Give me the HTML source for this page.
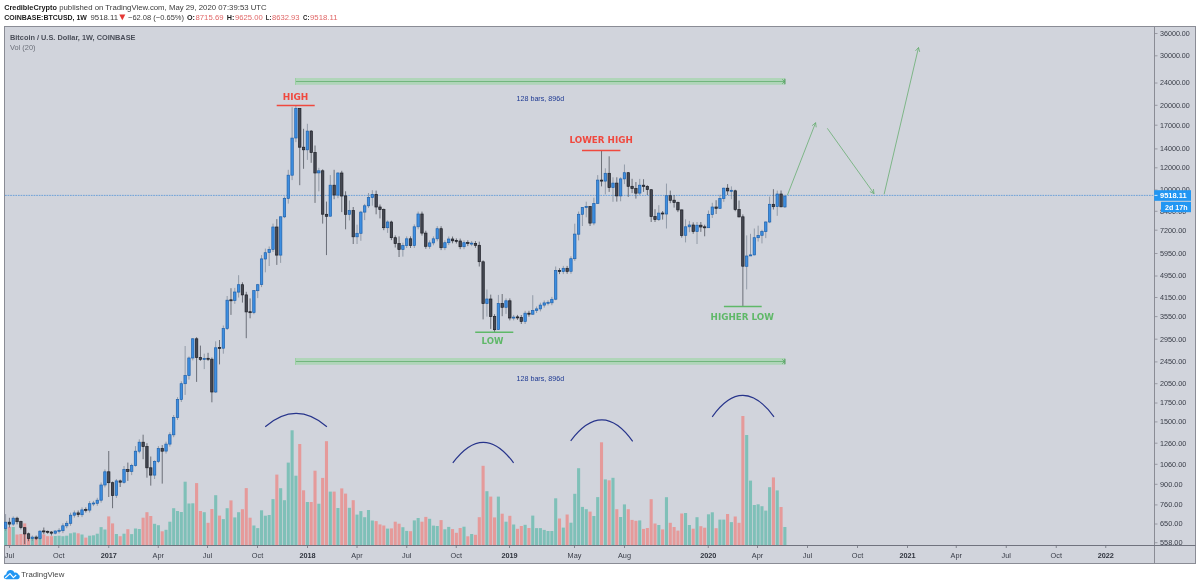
<!DOCTYPE html>
<html lang="en"><head><meta charset="utf-8"><title>BTCUSD 1W - TradingView</title>
<style>html,body{margin:0;padding:0;background:#fff}svg{display:block}text{font-family:"Liberation Sans",sans-serif}.ax{font-size:7.3px;fill:#383c47}.axb{font-size:7.3px;fill:#30343e;font-weight:bold}.an{font-family:"DejaVu Sans","Liberation Sans",sans-serif;font-weight:bold;font-size:8.1px}</style></head><body>
<svg width="1200" height="586" viewBox="0 0 1200 586">
<rect x="0" y="0" width="1200" height="586" fill="#ffffff"/>
<text x="4.2" y="10" style="font-size:7.6px;font-weight:bold;fill:#1c1c1c" textLength="52.8" lengthAdjust="spacingAndGlyphs">CredibleCrypto</text>
<text x="59.2" y="10" style="font-size:7.6px;fill:#3a3a3a" textLength="207.5" lengthAdjust="spacingAndGlyphs">published on TradingView.com, May 29, 2020 07:39:53 UTC</text>
<text x="4.2" y="20" style="font-size:7.6px;font-weight:bold;fill:#1c1c1c" textLength="82.8" lengthAdjust="spacingAndGlyphs">COINBASE:BTCUSD, 1W</text>
<text x="90.5" y="20" style="font-size:7.6px;fill:#3a3a3a" textLength="27.5" lengthAdjust="spacingAndGlyphs">9518.11</text>
<path d="M119.3 14.6 L125.3 14.6 L122.3 20.2 Z" fill="#e53935"/>
<text x="128" y="20" style="font-size:7.6px;fill:#3a3a3a" textLength="56" lengthAdjust="spacingAndGlyphs">&#8722;62.08 (&#8722;0.65%)</text>
<text x="187" y="20" style="font-size:7.6px;font-weight:bold;fill:#1c1c1c" textLength="8" lengthAdjust="spacingAndGlyphs">O:</text>
<text x="195.5" y="20" style="font-size:7.6px;fill:#e06666" textLength="28" lengthAdjust="spacingAndGlyphs">8715.69</text>
<text x="226.7" y="20" style="font-size:7.6px;font-weight:bold;fill:#1c1c1c" textLength="7.6" lengthAdjust="spacingAndGlyphs">H:</text>
<text x="235" y="20" style="font-size:7.6px;fill:#e06666" textLength="27.7" lengthAdjust="spacingAndGlyphs">9625.00</text>
<text x="265.8" y="20" style="font-size:7.6px;font-weight:bold;fill:#1c1c1c" textLength="5.6" lengthAdjust="spacingAndGlyphs">L:</text>
<text x="272" y="20" style="font-size:7.6px;fill:#e06666" textLength="27.5" lengthAdjust="spacingAndGlyphs">8632.93</text>
<text x="303" y="20" style="font-size:7.6px;font-weight:bold;fill:#1c1c1c" textLength="6.4" lengthAdjust="spacingAndGlyphs">C:</text>
<text x="310" y="20" style="font-size:7.6px;fill:#e06666" textLength="27.5" lengthAdjust="spacingAndGlyphs">9518.11</text>
<rect x="4.5" y="26.5" width="1191.0" height="537.0" fill="#d1d4dc" stroke="#8a8c95" stroke-width="1"/>
<defs><clipPath id="cp"><rect x="4" y="27" width="1150.5" height="518.5"/></clipPath></defs>
<g clip-path="url(#cp)">
<rect x="4.05" y="528.7" width="3.1" height="16.8" fill="#7fc0b8"/>
<rect x="7.87" y="527.0" width="3.1" height="18.5" fill="#e59a9a"/>
<rect x="11.69" y="527.0" width="3.1" height="18.5" fill="#7fc0b8"/>
<rect x="15.51" y="534.5" width="3.1" height="11.0" fill="#e59a9a"/>
<rect x="19.33" y="534.0" width="3.1" height="11.5" fill="#e59a9a"/>
<rect x="23.15" y="523.4" width="3.1" height="22.1" fill="#e59a9a"/>
<rect x="26.97" y="537.0" width="3.1" height="8.5" fill="#e59a9a"/>
<rect x="30.79" y="537.4" width="3.1" height="8.1" fill="#7fc0b8"/>
<rect x="34.61" y="538.0" width="3.1" height="7.5" fill="#e59a9a"/>
<rect x="38.43" y="536.3" width="3.1" height="9.2" fill="#7fc0b8"/>
<rect x="42.25" y="534.5" width="3.1" height="11.0" fill="#e59a9a"/>
<rect x="46.07" y="536.2" width="3.1" height="9.2" fill="#e59a9a"/>
<rect x="49.89" y="536.2" width="3.1" height="9.2" fill="#e59a9a"/>
<rect x="53.71" y="536.0" width="3.1" height="9.5" fill="#7fc0b8"/>
<rect x="57.53" y="535.7" width="3.1" height="9.8" fill="#7fc0b8"/>
<rect x="61.35" y="536.2" width="3.1" height="9.2" fill="#7fc0b8"/>
<rect x="65.17" y="535.7" width="3.1" height="9.8" fill="#7fc0b8"/>
<rect x="68.99" y="533.3" width="3.1" height="12.2" fill="#7fc0b8"/>
<rect x="72.81" y="532.5" width="3.1" height="13.0" fill="#7fc0b8"/>
<rect x="76.63" y="533.3" width="3.1" height="12.2" fill="#e59a9a"/>
<rect x="80.45" y="534.5" width="3.1" height="11.0" fill="#7fc0b8"/>
<rect x="84.27" y="537.6" width="3.1" height="7.9" fill="#e59a9a"/>
<rect x="88.09" y="535.7" width="3.1" height="9.8" fill="#7fc0b8"/>
<rect x="91.91" y="535.3" width="3.1" height="10.2" fill="#7fc0b8"/>
<rect x="95.73" y="533.7" width="3.1" height="11.8" fill="#7fc0b8"/>
<rect x="99.55" y="527.1" width="3.1" height="18.4" fill="#7fc0b8"/>
<rect x="103.37" y="529.5" width="3.1" height="16.0" fill="#7fc0b8"/>
<rect x="107.19" y="516.4" width="3.1" height="29.1" fill="#e59a9a"/>
<rect x="111.01" y="523.4" width="3.1" height="22.1" fill="#e59a9a"/>
<rect x="114.83" y="534.0" width="3.1" height="11.5" fill="#7fc0b8"/>
<rect x="118.65" y="536.2" width="3.1" height="9.2" fill="#e59a9a"/>
<rect x="122.47" y="533.7" width="3.1" height="11.8" fill="#7fc0b8"/>
<rect x="126.29" y="529.2" width="3.1" height="16.2" fill="#e59a9a"/>
<rect x="130.11" y="534.1" width="3.1" height="11.4" fill="#7fc0b8"/>
<rect x="133.93" y="528.5" width="3.1" height="17.0" fill="#7fc0b8"/>
<rect x="137.75" y="529.0" width="3.1" height="16.5" fill="#7fc0b8"/>
<rect x="141.57" y="517.7" width="3.1" height="27.8" fill="#e59a9a"/>
<rect x="145.39" y="512.2" width="3.1" height="33.3" fill="#e59a9a"/>
<rect x="149.21" y="516.0" width="3.1" height="29.5" fill="#e59a9a"/>
<rect x="153.03" y="523.8" width="3.1" height="21.7" fill="#7fc0b8"/>
<rect x="156.85" y="525.2" width="3.1" height="20.3" fill="#7fc0b8"/>
<rect x="160.67" y="531.3" width="3.1" height="14.2" fill="#e59a9a"/>
<rect x="164.49" y="529.8" width="3.1" height="15.7" fill="#7fc0b8"/>
<rect x="168.31" y="521.7" width="3.1" height="23.8" fill="#7fc0b8"/>
<rect x="172.13" y="508.2" width="3.1" height="37.3" fill="#7fc0b8"/>
<rect x="175.95" y="511.0" width="3.1" height="34.5" fill="#7fc0b8"/>
<rect x="179.77" y="512.0" width="3.1" height="33.5" fill="#7fc0b8"/>
<rect x="183.59" y="481.7" width="3.1" height="63.8" fill="#7fc0b8"/>
<rect x="187.41" y="503.5" width="3.1" height="42.0" fill="#7fc0b8"/>
<rect x="191.23" y="503.3" width="3.1" height="42.2" fill="#7fc0b8"/>
<rect x="195.05" y="483.1" width="3.1" height="62.4" fill="#e59a9a"/>
<rect x="198.87" y="511.0" width="3.1" height="34.5" fill="#e59a9a"/>
<rect x="202.69" y="512.2" width="3.1" height="33.3" fill="#7fc0b8"/>
<rect x="206.51" y="522.8" width="3.1" height="22.7" fill="#e59a9a"/>
<rect x="210.33" y="509.0" width="3.1" height="36.5" fill="#e59a9a"/>
<rect x="214.15" y="495.2" width="3.1" height="50.3" fill="#7fc0b8"/>
<rect x="217.97" y="515.6" width="3.1" height="29.9" fill="#e59a9a"/>
<rect x="221.79" y="519.1" width="3.1" height="26.4" fill="#7fc0b8"/>
<rect x="225.61" y="508.2" width="3.1" height="37.3" fill="#7fc0b8"/>
<rect x="229.43" y="500.4" width="3.1" height="45.1" fill="#e59a9a"/>
<rect x="233.25" y="517.4" width="3.1" height="28.1" fill="#7fc0b8"/>
<rect x="237.07" y="512.2" width="3.1" height="33.3" fill="#7fc0b8"/>
<rect x="240.89" y="509.2" width="3.1" height="36.3" fill="#e59a9a"/>
<rect x="244.71" y="488.1" width="3.1" height="57.4" fill="#e59a9a"/>
<rect x="248.53" y="517.7" width="3.1" height="27.8" fill="#e59a9a"/>
<rect x="252.35" y="525.5" width="3.1" height="20.0" fill="#7fc0b8"/>
<rect x="256.17" y="528.1" width="3.1" height="17.4" fill="#7fc0b8"/>
<rect x="259.99" y="510.3" width="3.1" height="35.2" fill="#7fc0b8"/>
<rect x="263.81" y="515.7" width="3.1" height="29.8" fill="#7fc0b8"/>
<rect x="267.63" y="515.0" width="3.1" height="30.5" fill="#7fc0b8"/>
<rect x="271.45" y="499.1" width="3.1" height="46.4" fill="#7fc0b8"/>
<rect x="275.27" y="474.6" width="3.1" height="70.9" fill="#e59a9a"/>
<rect x="279.09" y="488.2" width="3.1" height="57.3" fill="#7fc0b8"/>
<rect x="282.91" y="500.2" width="3.1" height="45.3" fill="#7fc0b8"/>
<rect x="286.73" y="462.6" width="3.1" height="82.9" fill="#7fc0b8"/>
<rect x="290.55" y="430.3" width="3.1" height="115.2" fill="#7fc0b8"/>
<rect x="294.37" y="475.7" width="3.1" height="69.8" fill="#7fc0b8"/>
<rect x="298.19" y="444.0" width="3.1" height="101.5" fill="#e59a9a"/>
<rect x="302.01" y="490.3" width="3.1" height="55.2" fill="#e59a9a"/>
<rect x="305.83" y="502.0" width="3.1" height="43.5" fill="#7fc0b8"/>
<rect x="309.65" y="502.0" width="3.1" height="43.5" fill="#e59a9a"/>
<rect x="313.47" y="470.7" width="3.1" height="74.8" fill="#e59a9a"/>
<rect x="317.29" y="503.7" width="3.1" height="41.8" fill="#7fc0b8"/>
<rect x="321.11" y="477.9" width="3.1" height="67.6" fill="#e59a9a"/>
<rect x="324.93" y="441.2" width="3.1" height="104.3" fill="#e59a9a"/>
<rect x="328.75" y="491.6" width="3.1" height="53.9" fill="#7fc0b8"/>
<rect x="332.57" y="491.6" width="3.1" height="53.9" fill="#e59a9a"/>
<rect x="336.39" y="508.0" width="3.1" height="37.5" fill="#7fc0b8"/>
<rect x="340.21" y="488.4" width="3.1" height="57.1" fill="#e59a9a"/>
<rect x="344.03" y="493.6" width="3.1" height="51.9" fill="#e59a9a"/>
<rect x="347.85" y="507.8" width="3.1" height="37.7" fill="#7fc0b8"/>
<rect x="351.67" y="500.2" width="3.1" height="45.3" fill="#e59a9a"/>
<rect x="355.49" y="514.6" width="3.1" height="30.9" fill="#7fc0b8"/>
<rect x="359.31" y="511.1" width="3.1" height="34.4" fill="#7fc0b8"/>
<rect x="363.13" y="517.2" width="3.1" height="28.3" fill="#7fc0b8"/>
<rect x="366.95" y="510.0" width="3.1" height="35.5" fill="#7fc0b8"/>
<rect x="370.77" y="520.5" width="3.1" height="25.0" fill="#7fc0b8"/>
<rect x="374.59" y="521.1" width="3.1" height="24.4" fill="#e59a9a"/>
<rect x="378.41" y="524.4" width="3.1" height="21.1" fill="#e59a9a"/>
<rect x="382.23" y="525.5" width="3.1" height="20.0" fill="#e59a9a"/>
<rect x="386.05" y="528.6" width="3.1" height="16.9" fill="#7fc0b8"/>
<rect x="389.87" y="528.4" width="3.1" height="17.1" fill="#e59a9a"/>
<rect x="393.69" y="521.7" width="3.1" height="23.8" fill="#e59a9a"/>
<rect x="397.51" y="523.7" width="3.1" height="21.8" fill="#e59a9a"/>
<rect x="401.33" y="527.2" width="3.1" height="18.3" fill="#7fc0b8"/>
<rect x="405.15" y="530.9" width="3.1" height="14.6" fill="#7fc0b8"/>
<rect x="408.97" y="531.2" width="3.1" height="14.3" fill="#e59a9a"/>
<rect x="412.79" y="520.4" width="3.1" height="25.1" fill="#7fc0b8"/>
<rect x="416.61" y="518.0" width="3.1" height="27.5" fill="#7fc0b8"/>
<rect x="420.43" y="521.7" width="3.1" height="23.8" fill="#e59a9a"/>
<rect x="424.25" y="516.9" width="3.1" height="28.6" fill="#e59a9a"/>
<rect x="428.07" y="518.8" width="3.1" height="26.7" fill="#7fc0b8"/>
<rect x="431.89" y="525.6" width="3.1" height="19.9" fill="#7fc0b8"/>
<rect x="435.71" y="526.0" width="3.1" height="19.5" fill="#7fc0b8"/>
<rect x="439.53" y="520.1" width="3.1" height="25.4" fill="#e59a9a"/>
<rect x="443.35" y="529.3" width="3.1" height="16.2" fill="#7fc0b8"/>
<rect x="447.17" y="526.9" width="3.1" height="18.6" fill="#7fc0b8"/>
<rect x="450.99" y="529.1" width="3.1" height="16.4" fill="#e59a9a"/>
<rect x="454.81" y="532.8" width="3.1" height="12.7" fill="#e59a9a"/>
<rect x="458.63" y="528.0" width="3.1" height="17.5" fill="#e59a9a"/>
<rect x="462.45" y="526.7" width="3.1" height="18.8" fill="#7fc0b8"/>
<rect x="466.27" y="536.3" width="3.1" height="9.2" fill="#e59a9a"/>
<rect x="470.09" y="534.0" width="3.1" height="11.5" fill="#7fc0b8"/>
<rect x="473.91" y="534.8" width="3.1" height="10.7" fill="#e59a9a"/>
<rect x="477.73" y="517.2" width="3.1" height="28.3" fill="#e59a9a"/>
<rect x="481.55" y="465.8" width="3.1" height="79.7" fill="#e59a9a"/>
<rect x="485.37" y="491.2" width="3.1" height="54.3" fill="#7fc0b8"/>
<rect x="489.19" y="496.6" width="3.1" height="48.9" fill="#e59a9a"/>
<rect x="493.01" y="517.4" width="3.1" height="28.1" fill="#e59a9a"/>
<rect x="496.83" y="496.6" width="3.1" height="48.9" fill="#7fc0b8"/>
<rect x="500.65" y="513.7" width="3.1" height="31.8" fill="#e59a9a"/>
<rect x="504.47" y="521.7" width="3.1" height="23.8" fill="#7fc0b8"/>
<rect x="508.29" y="515.8" width="3.1" height="29.7" fill="#e59a9a"/>
<rect x="512.11" y="524.5" width="3.1" height="21.0" fill="#7fc0b8"/>
<rect x="515.93" y="528.8" width="3.1" height="16.7" fill="#e59a9a"/>
<rect x="519.75" y="526.0" width="3.1" height="19.5" fill="#e59a9a"/>
<rect x="523.57" y="524.8" width="3.1" height="20.7" fill="#7fc0b8"/>
<rect x="527.39" y="528.0" width="3.1" height="17.5" fill="#e59a9a"/>
<rect x="531.21" y="515.6" width="3.1" height="29.9" fill="#7fc0b8"/>
<rect x="535.03" y="528.1" width="3.1" height="17.4" fill="#7fc0b8"/>
<rect x="538.85" y="528.1" width="3.1" height="17.4" fill="#7fc0b8"/>
<rect x="542.67" y="529.9" width="3.1" height="15.6" fill="#7fc0b8"/>
<rect x="546.49" y="531.0" width="3.1" height="14.5" fill="#7fc0b8"/>
<rect x="550.31" y="531.0" width="3.1" height="14.5" fill="#7fc0b8"/>
<rect x="554.13" y="498.3" width="3.1" height="47.2" fill="#7fc0b8"/>
<rect x="557.95" y="518.5" width="3.1" height="27.0" fill="#e59a9a"/>
<rect x="561.77" y="527.6" width="3.1" height="17.9" fill="#7fc0b8"/>
<rect x="565.59" y="514.5" width="3.1" height="31.0" fill="#e59a9a"/>
<rect x="569.41" y="522.7" width="3.1" height="22.8" fill="#7fc0b8"/>
<rect x="573.23" y="493.8" width="3.1" height="51.7" fill="#7fc0b8"/>
<rect x="577.05" y="468.2" width="3.1" height="77.3" fill="#7fc0b8"/>
<rect x="580.87" y="506.9" width="3.1" height="38.6" fill="#7fc0b8"/>
<rect x="584.69" y="509.2" width="3.1" height="36.3" fill="#7fc0b8"/>
<rect x="588.51" y="511.6" width="3.1" height="33.9" fill="#e59a9a"/>
<rect x="592.33" y="516.0" width="3.1" height="29.5" fill="#7fc0b8"/>
<rect x="596.15" y="497.1" width="3.1" height="48.4" fill="#7fc0b8"/>
<rect x="599.97" y="442.3" width="3.1" height="103.2" fill="#e59a9a"/>
<rect x="603.79" y="479.4" width="3.1" height="66.1" fill="#7fc0b8"/>
<rect x="607.61" y="480.3" width="3.1" height="65.2" fill="#e59a9a"/>
<rect x="611.43" y="477.8" width="3.1" height="67.7" fill="#7fc0b8"/>
<rect x="615.25" y="509.2" width="3.1" height="36.3" fill="#e59a9a"/>
<rect x="619.07" y="517.0" width="3.1" height="28.5" fill="#7fc0b8"/>
<rect x="622.89" y="504.4" width="3.1" height="41.1" fill="#7fc0b8"/>
<rect x="626.71" y="509.2" width="3.1" height="36.3" fill="#e59a9a"/>
<rect x="630.53" y="519.9" width="3.1" height="25.6" fill="#e59a9a"/>
<rect x="634.35" y="520.8" width="3.1" height="24.7" fill="#e59a9a"/>
<rect x="638.17" y="520.4" width="3.1" height="25.1" fill="#7fc0b8"/>
<rect x="641.99" y="528.9" width="3.1" height="16.6" fill="#e59a9a"/>
<rect x="645.81" y="528.0" width="3.1" height="17.5" fill="#e59a9a"/>
<rect x="649.63" y="499.2" width="3.1" height="46.3" fill="#e59a9a"/>
<rect x="653.45" y="523.5" width="3.1" height="22.0" fill="#e59a9a"/>
<rect x="657.27" y="525.0" width="3.1" height="20.5" fill="#7fc0b8"/>
<rect x="661.09" y="529.4" width="3.1" height="16.1" fill="#e59a9a"/>
<rect x="664.91" y="497.2" width="3.1" height="48.3" fill="#7fc0b8"/>
<rect x="668.73" y="522.8" width="3.1" height="22.7" fill="#e59a9a"/>
<rect x="672.55" y="527.0" width="3.1" height="18.5" fill="#e59a9a"/>
<rect x="676.37" y="530.6" width="3.1" height="14.9" fill="#e59a9a"/>
<rect x="680.19" y="513.5" width="3.1" height="32.0" fill="#e59a9a"/>
<rect x="684.01" y="513.0" width="3.1" height="32.5" fill="#7fc0b8"/>
<rect x="687.83" y="525.0" width="3.1" height="20.5" fill="#7fc0b8"/>
<rect x="691.65" y="528.7" width="3.1" height="16.8" fill="#e59a9a"/>
<rect x="695.47" y="517.2" width="3.1" height="28.3" fill="#7fc0b8"/>
<rect x="699.29" y="526.2" width="3.1" height="19.3" fill="#e59a9a"/>
<rect x="703.11" y="527.7" width="3.1" height="17.8" fill="#e59a9a"/>
<rect x="706.93" y="514.3" width="3.1" height="31.2" fill="#7fc0b8"/>
<rect x="710.75" y="512.3" width="3.1" height="33.2" fill="#7fc0b8"/>
<rect x="714.57" y="528.2" width="3.1" height="17.3" fill="#e59a9a"/>
<rect x="718.39" y="519.6" width="3.1" height="25.9" fill="#7fc0b8"/>
<rect x="722.21" y="519.6" width="3.1" height="25.9" fill="#7fc0b8"/>
<rect x="726.03" y="514.0" width="3.1" height="31.5" fill="#e59a9a"/>
<rect x="729.85" y="522.1" width="3.1" height="23.4" fill="#7fc0b8"/>
<rect x="733.67" y="516.5" width="3.1" height="29.0" fill="#e59a9a"/>
<rect x="737.49" y="522.8" width="3.1" height="22.7" fill="#e59a9a"/>
<rect x="741.31" y="416.0" width="3.1" height="129.5" fill="#e59a9a"/>
<rect x="745.13" y="435.0" width="3.1" height="110.5" fill="#7fc0b8"/>
<rect x="748.95" y="480.6" width="3.1" height="64.9" fill="#7fc0b8"/>
<rect x="752.77" y="505.0" width="3.1" height="40.5" fill="#7fc0b8"/>
<rect x="756.59" y="504.3" width="3.1" height="41.2" fill="#7fc0b8"/>
<rect x="760.41" y="506.2" width="3.1" height="39.3" fill="#7fc0b8"/>
<rect x="764.23" y="510.6" width="3.1" height="34.9" fill="#7fc0b8"/>
<rect x="768.05" y="487.2" width="3.1" height="58.3" fill="#7fc0b8"/>
<rect x="771.87" y="477.4" width="3.1" height="68.1" fill="#e59a9a"/>
<rect x="775.69" y="490.4" width="3.1" height="55.1" fill="#7fc0b8"/>
<rect x="779.51" y="507.0" width="3.1" height="38.5" fill="#e59a9a"/>
<rect x="783.33" y="527.0" width="3.1" height="18.5" fill="#7fc0b8"/>
</g>
<line x1="5" y1="195.4" x2="1154.5" y2="195.4" stroke="#2a7fd6" stroke-width="0.6" stroke-dasharray="1.7 0.9"/>
<rect x="295" y="78.0" width="490" height="6.8" fill="#acd5b5" opacity="0.9"/>
<line x1="295" y1="81.5" x2="785" y2="81.5" stroke="#72b67e" stroke-width="1"/>
<line x1="295.5" y1="78.0" x2="295.5" y2="84.8" stroke="#9ccfa4" stroke-width="1"/>
<line x1="784.9" y1="78.8" x2="784.9" y2="84.2" stroke="#4f9a5c" stroke-width="1.1"/>
<path d="M782.2 79.3 L784.6 81.5 L782.2 83.7" fill="none" stroke="#5aa566" stroke-width="0.8"/>
<rect x="295" y="358.0" width="490" height="6.8" fill="#acd5b5" opacity="0.9"/>
<line x1="295" y1="361.5" x2="785" y2="361.5" stroke="#72b67e" stroke-width="1"/>
<line x1="295.5" y1="358.0" x2="295.5" y2="364.8" stroke="#9ccfa4" stroke-width="1"/>
<line x1="784.9" y1="358.8" x2="784.9" y2="364.2" stroke="#4f9a5c" stroke-width="1.1"/>
<path d="M782.2 359.3 L784.6 361.5 L782.2 363.7" fill="none" stroke="#5aa566" stroke-width="0.8"/>
<text x="516.5" y="101.3" style="font-size:7.3px;fill:#1f3a93" textLength="47.7" lengthAdjust="spacingAndGlyphs">128 bars, 896d</text>
<text x="516.5" y="380.7" style="font-size:7.3px;fill:#1f3a93" textLength="47.7" lengthAdjust="spacingAndGlyphs">128 bars, 896d</text>
<g clip-path="url(#cp)">
<line x1="5.60" y1="514.1" x2="5.60" y2="530.8" stroke="#7d8897" stroke-width="0.75"/>
<rect x="4.40" y="522.2" width="2.4" height="6.3" fill="#3d8ee0" stroke="#1f62ad" stroke-width="0.7"/>
<line x1="9.42" y1="517.8" x2="9.42" y2="527.5" stroke="#4a4d57" stroke-width="0.75"/>
<rect x="8.22" y="522.2" width="2.4" height="1.9" fill="#454852" stroke="#1d1f26" stroke-width="0.7"/>
<line x1="13.24" y1="516.4" x2="13.24" y2="525.9" stroke="#7d8897" stroke-width="0.75"/>
<rect x="12.04" y="518.2" width="2.4" height="5.9" fill="#3d8ee0" stroke="#1f62ad" stroke-width="0.7"/>
<line x1="17.06" y1="516.7" x2="17.06" y2="524.4" stroke="#4a4d57" stroke-width="0.75"/>
<rect x="15.86" y="518.2" width="2.4" height="3.5" fill="#454852" stroke="#1d1f26" stroke-width="0.7"/>
<line x1="20.88" y1="520.7" x2="20.88" y2="529.4" stroke="#4a4d57" stroke-width="0.75"/>
<rect x="19.68" y="521.6" width="2.4" height="6.0" fill="#454852" stroke="#1d1f26" stroke-width="0.7"/>
<line x1="24.70" y1="527.1" x2="24.70" y2="544.0" stroke="#4a4d57" stroke-width="0.75"/>
<rect x="23.50" y="527.7" width="2.4" height="6.2" fill="#454852" stroke="#1d1f26" stroke-width="0.7"/>
<line x1="28.52" y1="532.6" x2="28.52" y2="541.2" stroke="#4a4d57" stroke-width="0.75"/>
<rect x="27.32" y="533.8" width="2.4" height="4.6" fill="#454852" stroke="#1d1f26" stroke-width="0.7"/>
<line x1="32.34" y1="535.5" x2="32.34" y2="541.0" stroke="#7d8897" stroke-width="0.75"/>
<rect x="31.14" y="537.1" width="2.4" height="1.3" fill="#3d8ee0" stroke="#1f62ad" stroke-width="0.7"/>
<line x1="36.16" y1="535.5" x2="36.16" y2="540.1" stroke="#4a4d57" stroke-width="0.75"/>
<rect x="34.96" y="537.1" width="2.4" height="1.3" fill="#454852" stroke="#1d1f26" stroke-width="0.7"/>
<line x1="39.98" y1="530.2" x2="39.98" y2="540.1" stroke="#7d8897" stroke-width="0.75"/>
<rect x="38.78" y="531.2" width="2.4" height="7.2" fill="#3d8ee0" stroke="#1f62ad" stroke-width="0.7"/>
<line x1="43.80" y1="527.5" x2="43.80" y2="534.2" stroke="#4a4d57" stroke-width="0.75"/>
<rect x="42.60" y="530.9" width="2.4" height="1.0" fill="#454852" stroke="#1d1f26" stroke-width="0.7"/>
<line x1="47.62" y1="530.6" x2="47.62" y2="533.8" stroke="#4a4d57" stroke-width="0.75"/>
<rect x="46.42" y="531.3" width="2.4" height="1.0" fill="#454852" stroke="#1d1f26" stroke-width="0.7"/>
<line x1="51.44" y1="531.2" x2="51.44" y2="535.5" stroke="#4a4d57" stroke-width="0.75"/>
<rect x="50.24" y="532.0" width="2.4" height="1.2" fill="#454852" stroke="#1d1f26" stroke-width="0.7"/>
<line x1="55.26" y1="530.4" x2="55.26" y2="534.4" stroke="#7d8897" stroke-width="0.75"/>
<rect x="54.06" y="531.0" width="2.4" height="2.2" fill="#3d8ee0" stroke="#1f62ad" stroke-width="0.7"/>
<line x1="59.08" y1="528.2" x2="59.08" y2="533.5" stroke="#7d8897" stroke-width="0.75"/>
<rect x="57.88" y="530.3" width="2.4" height="1.0" fill="#3d8ee0" stroke="#1f62ad" stroke-width="0.7"/>
<line x1="62.90" y1="523.3" x2="62.90" y2="533.1" stroke="#7d8897" stroke-width="0.75"/>
<rect x="61.70" y="525.8" width="2.4" height="4.9" fill="#3d8ee0" stroke="#1f62ad" stroke-width="0.7"/>
<line x1="66.72" y1="520.9" x2="66.72" y2="528.2" stroke="#7d8897" stroke-width="0.75"/>
<rect x="65.52" y="523.3" width="2.4" height="2.5" fill="#3d8ee0" stroke="#1f62ad" stroke-width="0.7"/>
<line x1="70.54" y1="512.7" x2="70.54" y2="525.8" stroke="#7d8897" stroke-width="0.75"/>
<rect x="69.34" y="515.2" width="2.4" height="8.1" fill="#3d8ee0" stroke="#1f62ad" stroke-width="0.7"/>
<line x1="74.36" y1="510.5" x2="74.36" y2="517.6" stroke="#7d8897" stroke-width="0.75"/>
<rect x="73.16" y="512.9" width="2.4" height="2.3" fill="#3d8ee0" stroke="#1f62ad" stroke-width="0.7"/>
<line x1="78.18" y1="510.5" x2="78.18" y2="517.1" stroke="#4a4d57" stroke-width="0.75"/>
<rect x="76.98" y="512.9" width="2.4" height="1.7" fill="#454852" stroke="#1d1f26" stroke-width="0.7"/>
<line x1="82.00" y1="507.4" x2="82.00" y2="517.1" stroke="#7d8897" stroke-width="0.75"/>
<rect x="80.80" y="509.9" width="2.4" height="4.8" fill="#3d8ee0" stroke="#1f62ad" stroke-width="0.7"/>
<line x1="85.82" y1="507.4" x2="85.82" y2="512.5" stroke="#4a4d57" stroke-width="0.75"/>
<rect x="84.62" y="509.4" width="2.4" height="1.0" fill="#454852" stroke="#1d1f26" stroke-width="0.7"/>
<line x1="89.64" y1="501.2" x2="89.64" y2="512.5" stroke="#7d8897" stroke-width="0.75"/>
<rect x="88.44" y="503.7" width="2.4" height="6.4" fill="#3d8ee0" stroke="#1f62ad" stroke-width="0.7"/>
<line x1="93.46" y1="500.9" x2="93.46" y2="506.1" stroke="#7d8897" stroke-width="0.75"/>
<rect x="92.26" y="503.0" width="2.4" height="1.0" fill="#3d8ee0" stroke="#1f62ad" stroke-width="0.7"/>
<line x1="97.28" y1="497.8" x2="97.28" y2="505.8" stroke="#7d8897" stroke-width="0.75"/>
<rect x="96.08" y="500.2" width="2.4" height="3.1" fill="#3d8ee0" stroke="#1f62ad" stroke-width="0.7"/>
<line x1="101.10" y1="482.5" x2="101.10" y2="502.7" stroke="#7d8897" stroke-width="0.75"/>
<rect x="99.90" y="485.0" width="2.4" height="15.2" fill="#3d8ee0" stroke="#1f62ad" stroke-width="0.7"/>
<line x1="104.92" y1="469.4" x2="104.92" y2="487.4" stroke="#7d8897" stroke-width="0.75"/>
<rect x="103.72" y="471.8" width="2.4" height="13.2" fill="#3d8ee0" stroke="#1f62ad" stroke-width="0.7"/>
<line x1="108.74" y1="451.0" x2="108.74" y2="497.0" stroke="#4a4d57" stroke-width="0.75"/>
<rect x="107.54" y="471.8" width="2.4" height="10.9" fill="#454852" stroke="#1d1f26" stroke-width="0.7"/>
<line x1="112.56" y1="481.6" x2="112.56" y2="508.2" stroke="#4a4d57" stroke-width="0.75"/>
<rect x="111.36" y="482.7" width="2.4" height="12.7" fill="#454852" stroke="#1d1f26" stroke-width="0.7"/>
<line x1="116.38" y1="479.0" x2="116.38" y2="497.9" stroke="#7d8897" stroke-width="0.75"/>
<rect x="115.18" y="480.9" width="2.4" height="14.4" fill="#3d8ee0" stroke="#1f62ad" stroke-width="0.7"/>
<line x1="120.20" y1="479.6" x2="120.20" y2="487.0" stroke="#4a4d57" stroke-width="0.75"/>
<rect x="119.00" y="480.9" width="2.4" height="1.3" fill="#454852" stroke="#1d1f26" stroke-width="0.7"/>
<line x1="124.02" y1="466.0" x2="124.02" y2="483.6" stroke="#7d8897" stroke-width="0.75"/>
<rect x="122.82" y="469.6" width="2.4" height="12.7" fill="#3d8ee0" stroke="#1f62ad" stroke-width="0.7"/>
<line x1="127.84" y1="462.6" x2="127.84" y2="480.9" stroke="#4a4d57" stroke-width="0.75"/>
<rect x="126.64" y="469.6" width="2.4" height="1.8" fill="#454852" stroke="#1d1f26" stroke-width="0.7"/>
<line x1="131.66" y1="463.7" x2="131.66" y2="475.1" stroke="#7d8897" stroke-width="0.75"/>
<rect x="130.46" y="465.4" width="2.4" height="6.0" fill="#3d8ee0" stroke="#1f62ad" stroke-width="0.7"/>
<line x1="135.48" y1="446.1" x2="135.48" y2="466.6" stroke="#7d8897" stroke-width="0.75"/>
<rect x="134.28" y="451.2" width="2.4" height="14.3" fill="#3d8ee0" stroke="#1f62ad" stroke-width="0.7"/>
<line x1="139.30" y1="439.3" x2="139.30" y2="453.3" stroke="#7d8897" stroke-width="0.75"/>
<rect x="138.10" y="442.2" width="2.4" height="9.0" fill="#3d8ee0" stroke="#1f62ad" stroke-width="0.7"/>
<line x1="143.12" y1="434.7" x2="143.12" y2="459.2" stroke="#4a4d57" stroke-width="0.75"/>
<rect x="141.92" y="442.2" width="2.4" height="4.4" fill="#454852" stroke="#1d1f26" stroke-width="0.7"/>
<line x1="146.94" y1="443.2" x2="146.94" y2="477.7" stroke="#4a4d57" stroke-width="0.75"/>
<rect x="145.74" y="446.6" width="2.4" height="21.2" fill="#454852" stroke="#1d1f26" stroke-width="0.7"/>
<line x1="150.76" y1="456.5" x2="150.76" y2="485.6" stroke="#4a4d57" stroke-width="0.75"/>
<rect x="149.56" y="467.8" width="2.4" height="7.3" fill="#454852" stroke="#1d1f26" stroke-width="0.7"/>
<line x1="154.58" y1="460.3" x2="154.58" y2="479.0" stroke="#7d8897" stroke-width="0.75"/>
<rect x="153.38" y="461.4" width="2.4" height="13.7" fill="#3d8ee0" stroke="#1f62ad" stroke-width="0.7"/>
<line x1="158.40" y1="446.1" x2="158.40" y2="463.1" stroke="#7d8897" stroke-width="0.75"/>
<rect x="157.20" y="448.6" width="2.4" height="12.8" fill="#3d8ee0" stroke="#1f62ad" stroke-width="0.7"/>
<line x1="162.22" y1="445.1" x2="162.22" y2="483.6" stroke="#4a4d57" stroke-width="0.75"/>
<rect x="161.02" y="448.6" width="2.4" height="2.6" fill="#454852" stroke="#1d1f26" stroke-width="0.7"/>
<line x1="166.04" y1="441.7" x2="166.04" y2="453.6" stroke="#7d8897" stroke-width="0.75"/>
<rect x="164.84" y="444.1" width="2.4" height="7.0" fill="#3d8ee0" stroke="#1f62ad" stroke-width="0.7"/>
<line x1="169.86" y1="432.3" x2="169.86" y2="446.6" stroke="#7d8897" stroke-width="0.75"/>
<rect x="168.66" y="434.7" width="2.4" height="9.4" fill="#3d8ee0" stroke="#1f62ad" stroke-width="0.7"/>
<line x1="173.68" y1="415.0" x2="173.68" y2="437.2" stroke="#7d8897" stroke-width="0.75"/>
<rect x="172.48" y="417.5" width="2.4" height="17.3" fill="#3d8ee0" stroke="#1f62ad" stroke-width="0.7"/>
<line x1="177.50" y1="397.2" x2="177.50" y2="419.9" stroke="#7d8897" stroke-width="0.75"/>
<rect x="176.30" y="399.6" width="2.4" height="17.9" fill="#3d8ee0" stroke="#1f62ad" stroke-width="0.7"/>
<line x1="181.32" y1="381.3" x2="181.32" y2="402.0" stroke="#7d8897" stroke-width="0.75"/>
<rect x="180.12" y="383.7" width="2.4" height="15.9" fill="#3d8ee0" stroke="#1f62ad" stroke-width="0.7"/>
<line x1="185.14" y1="346.0" x2="185.14" y2="394.9" stroke="#7d8897" stroke-width="0.75"/>
<rect x="183.94" y="375.6" width="2.4" height="8.1" fill="#3d8ee0" stroke="#1f62ad" stroke-width="0.7"/>
<line x1="188.96" y1="356.5" x2="188.96" y2="379.6" stroke="#7d8897" stroke-width="0.75"/>
<rect x="187.76" y="358.0" width="2.4" height="17.6" fill="#3d8ee0" stroke="#1f62ad" stroke-width="0.7"/>
<line x1="192.78" y1="338.0" x2="192.78" y2="360.4" stroke="#7d8897" stroke-width="0.75"/>
<rect x="191.58" y="338.8" width="2.4" height="19.2" fill="#3d8ee0" stroke="#1f62ad" stroke-width="0.7"/>
<line x1="196.60" y1="337.2" x2="196.60" y2="381.9" stroke="#4a4d57" stroke-width="0.75"/>
<rect x="195.40" y="338.8" width="2.4" height="18.7" fill="#454852" stroke="#1d1f26" stroke-width="0.7"/>
<line x1="200.42" y1="345.6" x2="200.42" y2="360.9" stroke="#4a4d57" stroke-width="0.75"/>
<rect x="199.22" y="357.5" width="2.4" height="1.9" fill="#454852" stroke="#1d1f26" stroke-width="0.7"/>
<line x1="204.24" y1="353.7" x2="204.24" y2="369.1" stroke="#7d8897" stroke-width="0.75"/>
<rect x="203.04" y="358.4" width="2.4" height="1.0" fill="#3d8ee0" stroke="#1f62ad" stroke-width="0.7"/>
<line x1="208.06" y1="352.8" x2="208.06" y2="360.9" stroke="#4a4d57" stroke-width="0.75"/>
<rect x="206.86" y="358.3" width="2.4" height="1.0" fill="#454852" stroke="#1d1f26" stroke-width="0.7"/>
<line x1="211.88" y1="357.5" x2="211.88" y2="402.3" stroke="#4a4d57" stroke-width="0.75"/>
<rect x="210.68" y="359.2" width="2.4" height="32.8" fill="#454852" stroke="#1d1f26" stroke-width="0.7"/>
<line x1="215.70" y1="341.3" x2="215.70" y2="393.0" stroke="#7d8897" stroke-width="0.75"/>
<rect x="214.50" y="347.8" width="2.4" height="44.2" fill="#3d8ee0" stroke="#1f62ad" stroke-width="0.7"/>
<line x1="219.52" y1="340.0" x2="219.52" y2="364.4" stroke="#4a4d57" stroke-width="0.75"/>
<rect x="218.32" y="347.5" width="2.4" height="1.0" fill="#454852" stroke="#1d1f26" stroke-width="0.7"/>
<line x1="223.34" y1="325.5" x2="223.34" y2="353.7" stroke="#7d8897" stroke-width="0.75"/>
<rect x="222.14" y="328.5" width="2.4" height="19.7" fill="#3d8ee0" stroke="#1f62ad" stroke-width="0.7"/>
<line x1="227.16" y1="296.0" x2="227.16" y2="330.0" stroke="#7d8897" stroke-width="0.75"/>
<rect x="225.96" y="300.2" width="2.4" height="28.3" fill="#3d8ee0" stroke="#1f62ad" stroke-width="0.7"/>
<line x1="230.98" y1="288.2" x2="230.98" y2="314.9" stroke="#4a4d57" stroke-width="0.75"/>
<rect x="229.78" y="299.8" width="2.4" height="1.0" fill="#454852" stroke="#1d1f26" stroke-width="0.7"/>
<line x1="234.80" y1="287.9" x2="234.80" y2="303.8" stroke="#7d8897" stroke-width="0.75"/>
<rect x="233.60" y="292.0" width="2.4" height="8.5" fill="#3d8ee0" stroke="#1f62ad" stroke-width="0.7"/>
<line x1="238.62" y1="275.2" x2="238.62" y2="297.5" stroke="#7d8897" stroke-width="0.75"/>
<rect x="237.42" y="284.7" width="2.4" height="7.4" fill="#3d8ee0" stroke="#1f62ad" stroke-width="0.7"/>
<line x1="242.44" y1="282.3" x2="242.44" y2="302.6" stroke="#4a4d57" stroke-width="0.75"/>
<rect x="241.24" y="284.7" width="2.4" height="10.2" fill="#454852" stroke="#1d1f26" stroke-width="0.7"/>
<line x1="246.26" y1="291.8" x2="246.26" y2="338.2" stroke="#4a4d57" stroke-width="0.75"/>
<rect x="245.06" y="294.9" width="2.4" height="17.0" fill="#454852" stroke="#1d1f26" stroke-width="0.7"/>
<line x1="250.08" y1="298.4" x2="250.08" y2="318.3" stroke="#4a4d57" stroke-width="0.75"/>
<rect x="248.88" y="311.7" width="2.4" height="1.0" fill="#454852" stroke="#1d1f26" stroke-width="0.7"/>
<line x1="253.90" y1="290.4" x2="253.90" y2="314.2" stroke="#7d8897" stroke-width="0.75"/>
<rect x="252.70" y="290.6" width="2.4" height="21.9" fill="#3d8ee0" stroke="#1f62ad" stroke-width="0.7"/>
<line x1="257.72" y1="283.9" x2="257.72" y2="298.1" stroke="#7d8897" stroke-width="0.75"/>
<rect x="256.52" y="284.7" width="2.4" height="6.0" fill="#3d8ee0" stroke="#1f62ad" stroke-width="0.7"/>
<line x1="261.54" y1="255.1" x2="261.54" y2="287.1" stroke="#7d8897" stroke-width="0.75"/>
<rect x="260.34" y="258.9" width="2.4" height="25.7" fill="#3d8ee0" stroke="#1f62ad" stroke-width="0.7"/>
<line x1="265.36" y1="248.6" x2="265.36" y2="272.3" stroke="#7d8897" stroke-width="0.75"/>
<rect x="264.16" y="252.7" width="2.4" height="6.3" fill="#3d8ee0" stroke="#1f62ad" stroke-width="0.7"/>
<line x1="269.18" y1="246.5" x2="269.18" y2="266.0" stroke="#7d8897" stroke-width="0.75"/>
<rect x="267.98" y="249.4" width="2.4" height="3.2" fill="#3d8ee0" stroke="#1f62ad" stroke-width="0.7"/>
<line x1="273.00" y1="223.6" x2="273.00" y2="252.0" stroke="#7d8897" stroke-width="0.75"/>
<rect x="271.80" y="227.0" width="2.4" height="22.4" fill="#3d8ee0" stroke="#1f62ad" stroke-width="0.7"/>
<line x1="276.82" y1="219.1" x2="276.82" y2="264.9" stroke="#4a4d57" stroke-width="0.75"/>
<rect x="275.62" y="227.0" width="2.4" height="28.1" fill="#454852" stroke="#1d1f26" stroke-width="0.7"/>
<line x1="280.64" y1="216.5" x2="280.64" y2="262.9" stroke="#7d8897" stroke-width="0.75"/>
<rect x="279.44" y="216.8" width="2.4" height="38.3" fill="#3d8ee0" stroke="#1f62ad" stroke-width="0.7"/>
<line x1="284.46" y1="196.6" x2="284.46" y2="218.1" stroke="#7d8897" stroke-width="0.75"/>
<rect x="283.26" y="198.5" width="2.4" height="18.3" fill="#3d8ee0" stroke="#1f62ad" stroke-width="0.7"/>
<line x1="288.28" y1="169.8" x2="288.28" y2="203.6" stroke="#7d8897" stroke-width="0.75"/>
<rect x="287.08" y="175.2" width="2.4" height="23.3" fill="#3d8ee0" stroke="#1f62ad" stroke-width="0.7"/>
<line x1="292.10" y1="107.2" x2="292.10" y2="180.1" stroke="#7d8897" stroke-width="0.75"/>
<rect x="290.90" y="138.1" width="2.4" height="37.1" fill="#3d8ee0" stroke="#1f62ad" stroke-width="0.7"/>
<line x1="295.92" y1="106.0" x2="295.92" y2="142.1" stroke="#7d8897" stroke-width="0.75"/>
<rect x="294.72" y="108.4" width="2.4" height="29.6" fill="#3d8ee0" stroke="#1f62ad" stroke-width="0.7"/>
<line x1="299.74" y1="108.4" x2="299.74" y2="185.2" stroke="#4a4d57" stroke-width="0.75"/>
<rect x="298.54" y="108.4" width="2.4" height="38.8" fill="#454852" stroke="#1d1f26" stroke-width="0.7"/>
<line x1="303.56" y1="128.8" x2="303.56" y2="168.8" stroke="#4a4d57" stroke-width="0.75"/>
<rect x="302.36" y="147.2" width="2.4" height="2.6" fill="#454852" stroke="#1d1f26" stroke-width="0.7"/>
<line x1="307.38" y1="123.8" x2="307.38" y2="159.9" stroke="#7d8897" stroke-width="0.75"/>
<rect x="306.18" y="131.1" width="2.4" height="18.7" fill="#3d8ee0" stroke="#1f62ad" stroke-width="0.7"/>
<line x1="311.20" y1="130.0" x2="311.20" y2="162.8" stroke="#4a4d57" stroke-width="0.75"/>
<rect x="310.00" y="131.1" width="2.4" height="21.4" fill="#454852" stroke="#1d1f26" stroke-width="0.7"/>
<line x1="315.02" y1="145.5" x2="315.02" y2="202.9" stroke="#4a4d57" stroke-width="0.75"/>
<rect x="313.82" y="152.5" width="2.4" height="20.5" fill="#454852" stroke="#1d1f26" stroke-width="0.7"/>
<line x1="318.84" y1="167.8" x2="318.84" y2="191.3" stroke="#7d8897" stroke-width="0.75"/>
<rect x="317.64" y="170.8" width="2.4" height="2.1" fill="#3d8ee0" stroke="#1f62ad" stroke-width="0.7"/>
<line x1="322.66" y1="169.3" x2="322.66" y2="223.6" stroke="#4a4d57" stroke-width="0.75"/>
<rect x="321.46" y="170.8" width="2.4" height="43.4" fill="#454852" stroke="#1d1f26" stroke-width="0.7"/>
<line x1="326.48" y1="201.6" x2="326.48" y2="255.1" stroke="#4a4d57" stroke-width="0.75"/>
<rect x="325.28" y="214.3" width="2.4" height="2.0" fill="#454852" stroke="#1d1f26" stroke-width="0.7"/>
<line x1="330.30" y1="175.1" x2="330.30" y2="216.5" stroke="#7d8897" stroke-width="0.75"/>
<rect x="329.10" y="185.2" width="2.4" height="31.0" fill="#3d8ee0" stroke="#1f62ad" stroke-width="0.7"/>
<line x1="334.12" y1="169.8" x2="334.12" y2="199.2" stroke="#4a4d57" stroke-width="0.75"/>
<rect x="332.92" y="185.2" width="2.4" height="9.8" fill="#454852" stroke="#1d1f26" stroke-width="0.7"/>
<line x1="337.94" y1="172.3" x2="337.94" y2="198.2" stroke="#7d8897" stroke-width="0.75"/>
<rect x="336.74" y="173.0" width="2.4" height="22.1" fill="#3d8ee0" stroke="#1f62ad" stroke-width="0.7"/>
<line x1="341.76" y1="170.8" x2="341.76" y2="212.1" stroke="#4a4d57" stroke-width="0.75"/>
<rect x="340.56" y="173.0" width="2.4" height="23.0" fill="#454852" stroke="#1d1f26" stroke-width="0.7"/>
<line x1="345.58" y1="191.3" x2="345.58" y2="229.3" stroke="#4a4d57" stroke-width="0.75"/>
<rect x="344.38" y="195.9" width="2.4" height="18.4" fill="#454852" stroke="#1d1f26" stroke-width="0.7"/>
<line x1="349.40" y1="200.5" x2="349.40" y2="220.4" stroke="#7d8897" stroke-width="0.75"/>
<rect x="348.20" y="210.6" width="2.4" height="3.7" fill="#3d8ee0" stroke="#1f62ad" stroke-width="0.7"/>
<line x1="353.22" y1="207.0" x2="353.22" y2="244.0" stroke="#4a4d57" stroke-width="0.75"/>
<rect x="352.02" y="210.6" width="2.4" height="26.2" fill="#454852" stroke="#1d1f26" stroke-width="0.7"/>
<line x1="357.04" y1="224.7" x2="357.04" y2="244.0" stroke="#7d8897" stroke-width="0.75"/>
<rect x="355.84" y="233.3" width="2.4" height="3.5" fill="#3d8ee0" stroke="#1f62ad" stroke-width="0.7"/>
<line x1="360.86" y1="210.9" x2="360.86" y2="240.8" stroke="#7d8897" stroke-width="0.75"/>
<rect x="359.66" y="212.1" width="2.4" height="21.2" fill="#3d8ee0" stroke="#1f62ad" stroke-width="0.7"/>
<line x1="364.68" y1="203.9" x2="364.68" y2="220.1" stroke="#7d8897" stroke-width="0.75"/>
<rect x="363.48" y="205.8" width="2.4" height="6.3" fill="#3d8ee0" stroke="#1f62ad" stroke-width="0.7"/>
<line x1="368.50" y1="193.0" x2="368.50" y2="207.9" stroke="#7d8897" stroke-width="0.75"/>
<rect x="367.30" y="197.6" width="2.4" height="8.2" fill="#3d8ee0" stroke="#1f62ad" stroke-width="0.7"/>
<line x1="372.32" y1="190.2" x2="372.32" y2="205.7" stroke="#7d8897" stroke-width="0.75"/>
<rect x="371.12" y="194.5" width="2.4" height="3.1" fill="#3d8ee0" stroke="#1f62ad" stroke-width="0.7"/>
<line x1="376.14" y1="190.6" x2="376.14" y2="214.3" stroke="#4a4d57" stroke-width="0.75"/>
<rect x="374.94" y="194.5" width="2.4" height="12.5" fill="#454852" stroke="#1d1f26" stroke-width="0.7"/>
<line x1="379.96" y1="204.5" x2="379.96" y2="218.4" stroke="#4a4d57" stroke-width="0.75"/>
<rect x="378.76" y="207.0" width="2.4" height="2.6" fill="#454852" stroke="#1d1f26" stroke-width="0.7"/>
<line x1="383.78" y1="208.5" x2="383.78" y2="230.2" stroke="#4a4d57" stroke-width="0.75"/>
<rect x="382.58" y="209.6" width="2.4" height="18.1" fill="#454852" stroke="#1d1f26" stroke-width="0.7"/>
<line x1="387.60" y1="220.4" x2="387.60" y2="232.9" stroke="#7d8897" stroke-width="0.75"/>
<rect x="386.40" y="222.0" width="2.4" height="5.7" fill="#3d8ee0" stroke="#1f62ad" stroke-width="0.7"/>
<line x1="391.42" y1="220.7" x2="391.42" y2="240.1" stroke="#4a4d57" stroke-width="0.75"/>
<rect x="390.22" y="222.0" width="2.4" height="15.7" fill="#454852" stroke="#1d1f26" stroke-width="0.7"/>
<line x1="395.24" y1="235.4" x2="395.24" y2="247.5" stroke="#4a4d57" stroke-width="0.75"/>
<rect x="394.04" y="237.7" width="2.4" height="5.9" fill="#454852" stroke="#1d1f26" stroke-width="0.7"/>
<line x1="399.06" y1="236.4" x2="399.06" y2="257.0" stroke="#4a4d57" stroke-width="0.75"/>
<rect x="397.86" y="243.6" width="2.4" height="5.8" fill="#454852" stroke="#1d1f26" stroke-width="0.7"/>
<line x1="402.88" y1="242.7" x2="402.88" y2="256.6" stroke="#7d8897" stroke-width="0.75"/>
<rect x="401.68" y="245.5" width="2.4" height="3.9" fill="#3d8ee0" stroke="#1f62ad" stroke-width="0.7"/>
<line x1="406.70" y1="236.4" x2="406.70" y2="248.0" stroke="#7d8897" stroke-width="0.75"/>
<rect x="405.50" y="238.8" width="2.4" height="6.7" fill="#3d8ee0" stroke="#1f62ad" stroke-width="0.7"/>
<line x1="410.52" y1="236.4" x2="410.52" y2="248.0" stroke="#4a4d57" stroke-width="0.75"/>
<rect x="409.32" y="238.8" width="2.4" height="6.7" fill="#454852" stroke="#1d1f26" stroke-width="0.7"/>
<line x1="414.34" y1="224.4" x2="414.34" y2="248.0" stroke="#7d8897" stroke-width="0.75"/>
<rect x="413.14" y="226.8" width="2.4" height="18.7" fill="#3d8ee0" stroke="#1f62ad" stroke-width="0.7"/>
<line x1="418.16" y1="211.6" x2="418.16" y2="229.3" stroke="#7d8897" stroke-width="0.75"/>
<rect x="416.96" y="214.0" width="2.4" height="12.8" fill="#3d8ee0" stroke="#1f62ad" stroke-width="0.7"/>
<line x1="421.98" y1="211.6" x2="421.98" y2="235.6" stroke="#4a4d57" stroke-width="0.75"/>
<rect x="420.78" y="214.0" width="2.4" height="19.1" fill="#454852" stroke="#1d1f26" stroke-width="0.7"/>
<line x1="425.80" y1="230.7" x2="425.80" y2="248.8" stroke="#4a4d57" stroke-width="0.75"/>
<rect x="424.60" y="233.1" width="2.4" height="13.2" fill="#454852" stroke="#1d1f26" stroke-width="0.7"/>
<line x1="429.62" y1="240.4" x2="429.62" y2="248.8" stroke="#7d8897" stroke-width="0.75"/>
<rect x="428.42" y="242.9" width="2.4" height="3.4" fill="#3d8ee0" stroke="#1f62ad" stroke-width="0.7"/>
<line x1="433.44" y1="236.4" x2="433.44" y2="245.3" stroke="#7d8897" stroke-width="0.75"/>
<rect x="432.24" y="238.8" width="2.4" height="4.1" fill="#3d8ee0" stroke="#1f62ad" stroke-width="0.7"/>
<line x1="437.26" y1="226.2" x2="437.26" y2="241.3" stroke="#7d8897" stroke-width="0.75"/>
<rect x="436.06" y="228.7" width="2.4" height="10.1" fill="#3d8ee0" stroke="#1f62ad" stroke-width="0.7"/>
<line x1="441.08" y1="226.2" x2="441.08" y2="250.1" stroke="#4a4d57" stroke-width="0.75"/>
<rect x="439.88" y="228.7" width="2.4" height="19.0" fill="#454852" stroke="#1d1f26" stroke-width="0.7"/>
<line x1="444.90" y1="240.3" x2="444.90" y2="250.1" stroke="#7d8897" stroke-width="0.75"/>
<rect x="443.70" y="242.7" width="2.4" height="5.0" fill="#3d8ee0" stroke="#1f62ad" stroke-width="0.7"/>
<line x1="448.72" y1="236.5" x2="448.72" y2="245.1" stroke="#7d8897" stroke-width="0.75"/>
<rect x="447.52" y="239.0" width="2.4" height="3.7" fill="#3d8ee0" stroke="#1f62ad" stroke-width="0.7"/>
<line x1="452.54" y1="236.5" x2="452.54" y2="243.3" stroke="#4a4d57" stroke-width="0.75"/>
<rect x="451.34" y="239.0" width="2.4" height="1.8" fill="#454852" stroke="#1d1f26" stroke-width="0.7"/>
<line x1="456.36" y1="238.4" x2="456.36" y2="243.5" stroke="#4a4d57" stroke-width="0.75"/>
<rect x="455.16" y="240.4" width="2.4" height="1.0" fill="#454852" stroke="#1d1f26" stroke-width="0.7"/>
<line x1="460.18" y1="238.6" x2="460.18" y2="249.2" stroke="#4a4d57" stroke-width="0.75"/>
<rect x="458.98" y="241.0" width="2.4" height="5.7" fill="#454852" stroke="#1d1f26" stroke-width="0.7"/>
<line x1="464.00" y1="240.3" x2="464.00" y2="249.2" stroke="#7d8897" stroke-width="0.75"/>
<rect x="462.80" y="242.7" width="2.4" height="4.0" fill="#3d8ee0" stroke="#1f62ad" stroke-width="0.7"/>
<line x1="467.82" y1="240.3" x2="467.82" y2="246.1" stroke="#4a4d57" stroke-width="0.75"/>
<rect x="466.62" y="242.6" width="2.4" height="1.0" fill="#454852" stroke="#1d1f26" stroke-width="0.7"/>
<line x1="471.64" y1="241.1" x2="471.64" y2="246.1" stroke="#7d8897" stroke-width="0.75"/>
<rect x="470.44" y="243.1" width="2.4" height="1.0" fill="#3d8ee0" stroke="#1f62ad" stroke-width="0.7"/>
<line x1="475.46" y1="241.1" x2="475.46" y2="247.8" stroke="#4a4d57" stroke-width="0.75"/>
<rect x="474.26" y="243.5" width="2.4" height="1.8" fill="#454852" stroke="#1d1f26" stroke-width="0.7"/>
<line x1="479.28" y1="241.7" x2="479.28" y2="266.5" stroke="#4a4d57" stroke-width="0.75"/>
<rect x="478.08" y="245.3" width="2.4" height="16.4" fill="#454852" stroke="#1d1f26" stroke-width="0.7"/>
<line x1="483.10" y1="260.4" x2="483.10" y2="319.4" stroke="#4a4d57" stroke-width="0.75"/>
<rect x="481.90" y="261.8" width="2.4" height="41.8" fill="#454852" stroke="#1d1f26" stroke-width="0.7"/>
<line x1="486.92" y1="289.5" x2="486.92" y2="316.6" stroke="#7d8897" stroke-width="0.75"/>
<rect x="485.72" y="299.0" width="2.4" height="4.6" fill="#3d8ee0" stroke="#1f62ad" stroke-width="0.7"/>
<line x1="490.74" y1="294.6" x2="490.74" y2="328.9" stroke="#4a4d57" stroke-width="0.75"/>
<rect x="489.54" y="299.0" width="2.4" height="17.6" fill="#454852" stroke="#1d1f26" stroke-width="0.7"/>
<line x1="494.56" y1="314.2" x2="494.56" y2="332.0" stroke="#4a4d57" stroke-width="0.75"/>
<rect x="493.36" y="316.6" width="2.4" height="13.1" fill="#454852" stroke="#1d1f26" stroke-width="0.7"/>
<line x1="498.38" y1="294.9" x2="498.38" y2="330.0" stroke="#7d8897" stroke-width="0.75"/>
<rect x="497.18" y="303.5" width="2.4" height="26.1" fill="#3d8ee0" stroke="#1f62ad" stroke-width="0.7"/>
<line x1="502.20" y1="294.0" x2="502.20" y2="316.2" stroke="#4a4d57" stroke-width="0.75"/>
<rect x="501.00" y="303.5" width="2.4" height="3.8" fill="#454852" stroke="#1d1f26" stroke-width="0.7"/>
<line x1="506.02" y1="298.4" x2="506.02" y2="313.9" stroke="#7d8897" stroke-width="0.75"/>
<rect x="504.82" y="300.8" width="2.4" height="6.5" fill="#3d8ee0" stroke="#1f62ad" stroke-width="0.7"/>
<line x1="509.84" y1="298.4" x2="509.84" y2="320.4" stroke="#4a4d57" stroke-width="0.75"/>
<rect x="508.64" y="300.8" width="2.4" height="17.2" fill="#454852" stroke="#1d1f26" stroke-width="0.7"/>
<line x1="513.66" y1="314.9" x2="513.66" y2="320.4" stroke="#7d8897" stroke-width="0.75"/>
<rect x="512.46" y="317.1" width="2.4" height="1.0" fill="#3d8ee0" stroke="#1f62ad" stroke-width="0.7"/>
<line x1="517.48" y1="314.9" x2="517.48" y2="319.9" stroke="#4a4d57" stroke-width="0.75"/>
<rect x="516.28" y="316.9" width="2.4" height="1.0" fill="#454852" stroke="#1d1f26" stroke-width="0.7"/>
<line x1="521.30" y1="315.0" x2="521.30" y2="324.0" stroke="#4a4d57" stroke-width="0.75"/>
<rect x="520.10" y="317.4" width="2.4" height="4.1" fill="#454852" stroke="#1d1f26" stroke-width="0.7"/>
<line x1="525.12" y1="310.8" x2="525.12" y2="324.0" stroke="#7d8897" stroke-width="0.75"/>
<rect x="523.92" y="313.2" width="2.4" height="8.3" fill="#3d8ee0" stroke="#1f62ad" stroke-width="0.7"/>
<line x1="528.94" y1="310.8" x2="528.94" y2="316.7" stroke="#4a4d57" stroke-width="0.75"/>
<rect x="527.74" y="313.2" width="2.4" height="1.0" fill="#454852" stroke="#1d1f26" stroke-width="0.7"/>
<line x1="532.76" y1="295.2" x2="532.76" y2="314.9" stroke="#7d8897" stroke-width="0.75"/>
<rect x="531.56" y="310.5" width="2.4" height="3.7" fill="#3d8ee0" stroke="#1f62ad" stroke-width="0.7"/>
<line x1="536.58" y1="306.5" x2="536.58" y2="313.0" stroke="#7d8897" stroke-width="0.75"/>
<rect x="535.38" y="308.9" width="2.4" height="1.6" fill="#3d8ee0" stroke="#1f62ad" stroke-width="0.7"/>
<line x1="540.40" y1="302.7" x2="540.40" y2="311.4" stroke="#7d8897" stroke-width="0.75"/>
<rect x="539.20" y="305.1" width="2.4" height="3.8" fill="#3d8ee0" stroke="#1f62ad" stroke-width="0.7"/>
<line x1="544.22" y1="300.5" x2="544.22" y2="307.6" stroke="#7d8897" stroke-width="0.75"/>
<rect x="543.02" y="302.9" width="2.4" height="2.2" fill="#3d8ee0" stroke="#1f62ad" stroke-width="0.7"/>
<line x1="548.04" y1="300.3" x2="548.04" y2="305.4" stroke="#7d8897" stroke-width="0.75"/>
<rect x="546.84" y="302.3" width="2.4" height="1.0" fill="#3d8ee0" stroke="#1f62ad" stroke-width="0.7"/>
<line x1="551.86" y1="296.9" x2="551.86" y2="305.2" stroke="#7d8897" stroke-width="0.75"/>
<rect x="550.66" y="299.3" width="2.4" height="3.5" fill="#3d8ee0" stroke="#1f62ad" stroke-width="0.7"/>
<line x1="555.68" y1="266.5" x2="555.68" y2="300.2" stroke="#7d8897" stroke-width="0.75"/>
<rect x="554.48" y="270.6" width="2.4" height="28.6" fill="#3d8ee0" stroke="#1f62ad" stroke-width="0.7"/>
<line x1="559.50" y1="268.2" x2="559.50" y2="274.1" stroke="#4a4d57" stroke-width="0.75"/>
<rect x="558.30" y="270.6" width="2.4" height="1.0" fill="#454852" stroke="#1d1f26" stroke-width="0.7"/>
<line x1="563.32" y1="265.9" x2="563.32" y2="274.1" stroke="#7d8897" stroke-width="0.75"/>
<rect x="562.12" y="268.3" width="2.4" height="3.3" fill="#3d8ee0" stroke="#1f62ad" stroke-width="0.7"/>
<line x1="567.14" y1="265.9" x2="567.14" y2="273.8" stroke="#4a4d57" stroke-width="0.75"/>
<rect x="565.94" y="268.3" width="2.4" height="3.1" fill="#454852" stroke="#1d1f26" stroke-width="0.7"/>
<line x1="570.96" y1="256.3" x2="570.96" y2="273.8" stroke="#7d8897" stroke-width="0.75"/>
<rect x="569.76" y="258.7" width="2.4" height="12.6" fill="#3d8ee0" stroke="#1f62ad" stroke-width="0.7"/>
<line x1="574.78" y1="223.7" x2="574.78" y2="260.9" stroke="#7d8897" stroke-width="0.75"/>
<rect x="573.58" y="234.1" width="2.4" height="24.6" fill="#3d8ee0" stroke="#1f62ad" stroke-width="0.7"/>
<line x1="578.60" y1="211.5" x2="578.60" y2="240.4" stroke="#7d8897" stroke-width="0.75"/>
<rect x="577.40" y="214.3" width="2.4" height="19.9" fill="#3d8ee0" stroke="#1f62ad" stroke-width="0.7"/>
<line x1="582.42" y1="207.0" x2="582.42" y2="226.0" stroke="#7d8897" stroke-width="0.75"/>
<rect x="581.22" y="207.5" width="2.4" height="6.8" fill="#3d8ee0" stroke="#1f62ad" stroke-width="0.7"/>
<line x1="586.24" y1="201.7" x2="586.24" y2="217.3" stroke="#7d8897" stroke-width="0.75"/>
<rect x="585.04" y="206.5" width="2.4" height="1.0" fill="#3d8ee0" stroke="#1f62ad" stroke-width="0.7"/>
<line x1="590.06" y1="206.3" x2="590.06" y2="226.0" stroke="#4a4d57" stroke-width="0.75"/>
<rect x="588.86" y="206.5" width="2.4" height="16.6" fill="#454852" stroke="#1d1f26" stroke-width="0.7"/>
<line x1="593.88" y1="197.7" x2="593.88" y2="225.2" stroke="#7d8897" stroke-width="0.75"/>
<rect x="592.68" y="203.4" width="2.4" height="19.6" fill="#3d8ee0" stroke="#1f62ad" stroke-width="0.7"/>
<line x1="597.70" y1="175.1" x2="597.70" y2="203.6" stroke="#7d8897" stroke-width="0.75"/>
<rect x="596.50" y="180.1" width="2.4" height="23.4" fill="#3d8ee0" stroke="#1f62ad" stroke-width="0.7"/>
<line x1="601.52" y1="150.1" x2="601.52" y2="186.4" stroke="#4a4d57" stroke-width="0.75"/>
<rect x="600.32" y="180.1" width="2.4" height="1.0" fill="#454852" stroke="#1d1f26" stroke-width="0.7"/>
<line x1="605.34" y1="168.3" x2="605.34" y2="194.4" stroke="#7d8897" stroke-width="0.75"/>
<rect x="604.14" y="173.3" width="2.4" height="7.8" fill="#3d8ee0" stroke="#1f62ad" stroke-width="0.7"/>
<line x1="609.16" y1="156.3" x2="609.16" y2="191.9" stroke="#4a4d57" stroke-width="0.75"/>
<rect x="607.96" y="173.3" width="2.4" height="14.3" fill="#454852" stroke="#1d1f26" stroke-width="0.7"/>
<line x1="612.98" y1="177.3" x2="612.98" y2="201.8" stroke="#7d8897" stroke-width="0.75"/>
<rect x="611.78" y="183.1" width="2.4" height="4.5" fill="#3d8ee0" stroke="#1f62ad" stroke-width="0.7"/>
<line x1="616.80" y1="177.3" x2="616.80" y2="201.6" stroke="#4a4d57" stroke-width="0.75"/>
<rect x="615.60" y="183.1" width="2.4" height="12.8" fill="#454852" stroke="#1d1f26" stroke-width="0.7"/>
<line x1="620.62" y1="177.3" x2="620.62" y2="201.3" stroke="#7d8897" stroke-width="0.75"/>
<rect x="619.42" y="178.9" width="2.4" height="17.0" fill="#3d8ee0" stroke="#1f62ad" stroke-width="0.7"/>
<line x1="624.44" y1="164.5" x2="624.44" y2="184.1" stroke="#7d8897" stroke-width="0.75"/>
<rect x="623.24" y="172.7" width="2.4" height="6.2" fill="#3d8ee0" stroke="#1f62ad" stroke-width="0.7"/>
<line x1="628.26" y1="172.1" x2="628.26" y2="196.9" stroke="#4a4d57" stroke-width="0.75"/>
<rect x="627.06" y="172.7" width="2.4" height="13.6" fill="#454852" stroke="#1d1f26" stroke-width="0.7"/>
<line x1="632.08" y1="178.8" x2="632.08" y2="193.1" stroke="#4a4d57" stroke-width="0.75"/>
<rect x="630.88" y="186.3" width="2.4" height="2.2" fill="#454852" stroke="#1d1f26" stroke-width="0.7"/>
<line x1="635.90" y1="182.0" x2="635.90" y2="198.6" stroke="#4a4d57" stroke-width="0.75"/>
<rect x="634.70" y="188.5" width="2.4" height="4.7" fill="#454852" stroke="#1d1f26" stroke-width="0.7"/>
<line x1="639.72" y1="178.9" x2="639.72" y2="195.0" stroke="#7d8897" stroke-width="0.75"/>
<rect x="638.52" y="185.2" width="2.4" height="7.9" fill="#3d8ee0" stroke="#1f62ad" stroke-width="0.7"/>
<line x1="643.54" y1="179.2" x2="643.54" y2="191.9" stroke="#4a4d57" stroke-width="0.75"/>
<rect x="642.34" y="185.2" width="2.4" height="1.2" fill="#454852" stroke="#1d1f26" stroke-width="0.7"/>
<line x1="647.36" y1="185.2" x2="647.36" y2="195.0" stroke="#4a4d57" stroke-width="0.75"/>
<rect x="646.16" y="186.4" width="2.4" height="3.2" fill="#454852" stroke="#1d1f26" stroke-width="0.7"/>
<line x1="651.18" y1="189.4" x2="651.18" y2="222.0" stroke="#4a4d57" stroke-width="0.75"/>
<rect x="649.98" y="189.7" width="2.4" height="26.9" fill="#454852" stroke="#1d1f26" stroke-width="0.7"/>
<line x1="655.00" y1="209.2" x2="655.00" y2="222.0" stroke="#4a4d57" stroke-width="0.75"/>
<rect x="653.80" y="216.5" width="2.4" height="3.1" fill="#454852" stroke="#1d1f26" stroke-width="0.7"/>
<line x1="658.82" y1="205.2" x2="658.82" y2="221.0" stroke="#7d8897" stroke-width="0.75"/>
<rect x="657.62" y="213.1" width="2.4" height="6.5" fill="#3d8ee0" stroke="#1f62ad" stroke-width="0.7"/>
<line x1="662.64" y1="211.0" x2="662.64" y2="219.6" stroke="#4a4d57" stroke-width="0.75"/>
<rect x="661.44" y="213.0" width="2.4" height="1.0" fill="#454852" stroke="#1d1f26" stroke-width="0.7"/>
<line x1="666.46" y1="183.6" x2="666.46" y2="228.5" stroke="#7d8897" stroke-width="0.75"/>
<rect x="665.26" y="195.7" width="2.4" height="18.3" fill="#3d8ee0" stroke="#1f62ad" stroke-width="0.7"/>
<line x1="670.28" y1="190.6" x2="670.28" y2="203.2" stroke="#4a4d57" stroke-width="0.75"/>
<rect x="669.08" y="195.7" width="2.4" height="4.6" fill="#454852" stroke="#1d1f26" stroke-width="0.7"/>
<line x1="674.10" y1="195.0" x2="674.10" y2="207.6" stroke="#4a4d57" stroke-width="0.75"/>
<rect x="672.90" y="200.2" width="2.4" height="2.3" fill="#454852" stroke="#1d1f26" stroke-width="0.7"/>
<line x1="677.92" y1="201.6" x2="677.92" y2="212.1" stroke="#4a4d57" stroke-width="0.75"/>
<rect x="676.72" y="202.5" width="2.4" height="7.4" fill="#454852" stroke="#1d1f26" stroke-width="0.7"/>
<line x1="681.74" y1="209.6" x2="681.74" y2="237.6" stroke="#4a4d57" stroke-width="0.75"/>
<rect x="680.54" y="209.9" width="2.4" height="25.5" fill="#454852" stroke="#1d1f26" stroke-width="0.7"/>
<line x1="685.56" y1="219.3" x2="685.56" y2="242.4" stroke="#7d8897" stroke-width="0.75"/>
<rect x="684.36" y="226.8" width="2.4" height="8.5" fill="#3d8ee0" stroke="#1f62ad" stroke-width="0.7"/>
<line x1="689.38" y1="220.9" x2="689.38" y2="232.2" stroke="#7d8897" stroke-width="0.75"/>
<rect x="688.18" y="225.0" width="2.4" height="1.8" fill="#3d8ee0" stroke="#1f62ad" stroke-width="0.7"/>
<line x1="693.20" y1="222.3" x2="693.20" y2="233.8" stroke="#4a4d57" stroke-width="0.75"/>
<rect x="692.00" y="225.0" width="2.4" height="6.5" fill="#454852" stroke="#1d1f26" stroke-width="0.7"/>
<line x1="697.02" y1="222.0" x2="697.02" y2="244.0" stroke="#7d8897" stroke-width="0.75"/>
<rect x="695.82" y="225.2" width="2.4" height="6.4" fill="#3d8ee0" stroke="#1f62ad" stroke-width="0.7"/>
<line x1="700.84" y1="222.0" x2="700.84" y2="231.9" stroke="#4a4d57" stroke-width="0.75"/>
<rect x="699.64" y="225.2" width="2.4" height="1.8" fill="#454852" stroke="#1d1f26" stroke-width="0.7"/>
<line x1="704.66" y1="224.7" x2="704.66" y2="236.3" stroke="#4a4d57" stroke-width="0.75"/>
<rect x="703.46" y="226.8" width="2.4" height="1.0" fill="#454852" stroke="#1d1f26" stroke-width="0.7"/>
<line x1="708.48" y1="210.5" x2="708.48" y2="227.7" stroke="#7d8897" stroke-width="0.75"/>
<rect x="707.28" y="214.6" width="2.4" height="13.1" fill="#3d8ee0" stroke="#1f62ad" stroke-width="0.7"/>
<line x1="712.30" y1="202.8" x2="712.30" y2="217.9" stroke="#7d8897" stroke-width="0.75"/>
<rect x="711.10" y="207.0" width="2.4" height="7.5" fill="#3d8ee0" stroke="#1f62ad" stroke-width="0.7"/>
<line x1="716.12" y1="200.2" x2="716.12" y2="214.0" stroke="#4a4d57" stroke-width="0.75"/>
<rect x="714.92" y="207.0" width="2.4" height="1.3" fill="#454852" stroke="#1d1f26" stroke-width="0.7"/>
<line x1="719.94" y1="194.8" x2="719.94" y2="209.0" stroke="#7d8897" stroke-width="0.75"/>
<rect x="718.74" y="198.5" width="2.4" height="9.8" fill="#3d8ee0" stroke="#1f62ad" stroke-width="0.7"/>
<line x1="723.76" y1="187.6" x2="723.76" y2="201.8" stroke="#7d8897" stroke-width="0.75"/>
<rect x="722.56" y="188.2" width="2.4" height="10.3" fill="#3d8ee0" stroke="#1f62ad" stroke-width="0.7"/>
<line x1="727.58" y1="184.1" x2="727.58" y2="195.0" stroke="#4a4d57" stroke-width="0.75"/>
<rect x="726.38" y="188.2" width="2.4" height="2.7" fill="#454852" stroke="#1d1f26" stroke-width="0.7"/>
<line x1="731.40" y1="186.4" x2="731.40" y2="199.2" stroke="#7d8897" stroke-width="0.75"/>
<rect x="730.20" y="190.3" width="2.4" height="1.0" fill="#3d8ee0" stroke="#1f62ad" stroke-width="0.7"/>
<line x1="735.22" y1="189.7" x2="735.22" y2="211.2" stroke="#4a4d57" stroke-width="0.75"/>
<rect x="734.02" y="190.8" width="2.4" height="18.7" fill="#454852" stroke="#1d1f26" stroke-width="0.7"/>
<line x1="739.04" y1="200.5" x2="739.04" y2="217.3" stroke="#4a4d57" stroke-width="0.75"/>
<rect x="737.84" y="209.5" width="2.4" height="7.4" fill="#454852" stroke="#1d1f26" stroke-width="0.7"/>
<line x1="742.86" y1="214.4" x2="742.86" y2="306.4" stroke="#4a4d57" stroke-width="0.75"/>
<rect x="741.66" y="216.8" width="2.4" height="49.4" fill="#454852" stroke="#1d1f26" stroke-width="0.7"/>
<line x1="746.68" y1="235.4" x2="746.68" y2="289.4" stroke="#7d8897" stroke-width="0.75"/>
<rect x="745.48" y="256.0" width="2.4" height="10.3" fill="#3d8ee0" stroke="#1f62ad" stroke-width="0.7"/>
<line x1="750.50" y1="233.8" x2="750.50" y2="256.0" stroke="#7d8897" stroke-width="0.75"/>
<rect x="749.30" y="254.9" width="2.4" height="1.0" fill="#3d8ee0" stroke="#1f62ad" stroke-width="0.7"/>
<line x1="754.32" y1="228.5" x2="754.32" y2="255.3" stroke="#7d8897" stroke-width="0.75"/>
<rect x="753.12" y="237.7" width="2.4" height="17.2" fill="#3d8ee0" stroke="#1f62ad" stroke-width="0.7"/>
<line x1="758.14" y1="225.7" x2="758.14" y2="241.5" stroke="#7d8897" stroke-width="0.75"/>
<rect x="756.94" y="235.4" width="2.4" height="2.3" fill="#3d8ee0" stroke="#1f62ad" stroke-width="0.7"/>
<line x1="761.96" y1="229.8" x2="761.96" y2="243.4" stroke="#7d8897" stroke-width="0.75"/>
<rect x="760.76" y="231.5" width="2.4" height="3.8" fill="#3d8ee0" stroke="#1f62ad" stroke-width="0.7"/>
<line x1="765.78" y1="221.3" x2="765.78" y2="238.1" stroke="#7d8897" stroke-width="0.75"/>
<rect x="764.58" y="222.0" width="2.4" height="9.6" fill="#3d8ee0" stroke="#1f62ad" stroke-width="0.7"/>
<line x1="769.60" y1="196.6" x2="769.60" y2="223.1" stroke="#7d8897" stroke-width="0.75"/>
<rect x="768.40" y="204.3" width="2.4" height="17.7" fill="#3d8ee0" stroke="#1f62ad" stroke-width="0.7"/>
<line x1="773.42" y1="189.2" x2="773.42" y2="209.5" stroke="#4a4d57" stroke-width="0.75"/>
<rect x="772.22" y="204.3" width="2.4" height="2.4" fill="#454852" stroke="#1d1f26" stroke-width="0.7"/>
<line x1="777.24" y1="190.6" x2="777.24" y2="215.8" stroke="#7d8897" stroke-width="0.75"/>
<rect x="776.04" y="194.0" width="2.4" height="12.6" fill="#3d8ee0" stroke="#1f62ad" stroke-width="0.7"/>
<line x1="781.06" y1="190.5" x2="781.06" y2="207.2" stroke="#4a4d57" stroke-width="0.75"/>
<rect x="779.86" y="194.0" width="2.4" height="12.8" fill="#454852" stroke="#1d1f26" stroke-width="0.7"/>
<line x1="784.88" y1="194.7" x2="784.88" y2="208.0" stroke="#7d8897" stroke-width="0.75"/>
<rect x="783.68" y="196.1" width="2.4" height="10.8" fill="#3d8ee0" stroke="#1f62ad" stroke-width="0.7"/>
</g>
<line x1="276.7" y1="105.6" x2="314.7" y2="105.6" stroke="#f0483e" stroke-width="1.5"/>
<text x="282.7" y="99.8" class="an" style="fill:#f0483e" textLength="25.6" lengthAdjust="spacingAndGlyphs">HIGH</text>
<line x1="582" y1="150.4" x2="620.4" y2="150.4" stroke="#f0483e" stroke-width="1.5"/>
<text x="569.4" y="143.1" class="an" style="fill:#f0483e" textLength="63.4" lengthAdjust="spacingAndGlyphs">LOWER HIGH</text>
<line x1="475.2" y1="332.2" x2="513.3" y2="332.2" stroke="#5fb868" stroke-width="1.5"/>
<text x="481.6" y="343.9" class="an" style="fill:#5fb868" textLength="21.9" lengthAdjust="spacingAndGlyphs">LOW</text>
<line x1="723.9" y1="306.6" x2="761.7" y2="306.6" stroke="#5fb868" stroke-width="1.5"/>
<text x="710.6" y="320.1" class="an" style="fill:#5fb868" textLength="63.4" lengthAdjust="spacingAndGlyphs">HIGHER LOW</text>
<path d="M265.2 426.7 Q296.2 400.1 326.9 426.7" fill="none" stroke="#27348b" stroke-width="1.15"/>
<path d="M452.8 462.9 Q483.5 421.7 513.6 462.9" fill="none" stroke="#27348b" stroke-width="1.15"/>
<path d="M570.7 440.8 Q602.3 398.7 632.7 441.4" fill="none" stroke="#27348b" stroke-width="1.15"/>
<path d="M712.2 416.8 Q742.6 374.0 774 416.8" fill="none" stroke="#27348b" stroke-width="1.15"/>
<line x1="787.4" y1="195.2" x2="815.6" y2="122.7" stroke="#62ab6b" stroke-width="0.75"/>
<line x1="815.6" y1="122.7" x2="812.1" y2="125.7" stroke="#62ab6b" stroke-width="0.75"/>
<line x1="815.6" y1="122.7" x2="816.2" y2="127.3" stroke="#62ab6b" stroke-width="0.75"/>
<line x1="827.3" y1="128.3" x2="874" y2="193.6" stroke="#62ab6b" stroke-width="0.75"/>
<line x1="874" y1="193.6" x2="873.4" y2="189.0" stroke="#62ab6b" stroke-width="0.75"/>
<line x1="874" y1="193.6" x2="869.9" y2="191.6" stroke="#62ab6b" stroke-width="0.75"/>
<line x1="884.1" y1="194.3" x2="918.5" y2="47.5" stroke="#62ab6b" stroke-width="0.75"/>
<line x1="918.5" y1="47.5" x2="915.4" y2="50.9" stroke="#62ab6b" stroke-width="0.75"/>
<line x1="918.5" y1="47.5" x2="919.7" y2="51.9" stroke="#62ab6b" stroke-width="0.75"/>
<line x1="1154.5" y1="26.5" x2="1154.5" y2="563.5" stroke="#8a8c95" stroke-width="1"/>
<line x1="4.5" y1="545.5" x2="1195.5" y2="545.5" stroke="#70737e" stroke-width="1"/>
<line x1="1154.5" y1="33.5" x2="1157.5" y2="33.5" stroke="#8a8c95" stroke-width="0.8"/>
<text x="1160" y="35.9" class="ax" textLength="29.8" lengthAdjust="spacingAndGlyphs">36000.00</text>
<line x1="1154.5" y1="55.8" x2="1157.5" y2="55.8" stroke="#8a8c95" stroke-width="0.8"/>
<text x="1160" y="58.2" class="ax" textLength="29.8" lengthAdjust="spacingAndGlyphs">30000.00</text>
<line x1="1154.5" y1="83.0" x2="1157.5" y2="83.0" stroke="#8a8c95" stroke-width="0.8"/>
<text x="1160" y="85.4" class="ax" textLength="29.8" lengthAdjust="spacingAndGlyphs">24000.00</text>
<line x1="1154.5" y1="105.3" x2="1157.5" y2="105.3" stroke="#8a8c95" stroke-width="0.8"/>
<text x="1160" y="107.7" class="ax" textLength="29.8" lengthAdjust="spacingAndGlyphs">20000.00</text>
<line x1="1154.5" y1="125.2" x2="1157.5" y2="125.2" stroke="#8a8c95" stroke-width="0.8"/>
<text x="1160" y="127.6" class="ax" textLength="29.8" lengthAdjust="spacingAndGlyphs">17000.00</text>
<line x1="1154.5" y1="148.9" x2="1157.5" y2="148.9" stroke="#8a8c95" stroke-width="0.8"/>
<text x="1160" y="151.3" class="ax" textLength="29.8" lengthAdjust="spacingAndGlyphs">14000.00</text>
<line x1="1154.5" y1="167.8" x2="1157.5" y2="167.8" stroke="#8a8c95" stroke-width="0.8"/>
<text x="1160" y="170.2" class="ax" textLength="29.8" lengthAdjust="spacingAndGlyphs">12000.00</text>
<line x1="1154.5" y1="190.0" x2="1157.5" y2="190.0" stroke="#8a8c95" stroke-width="0.8"/>
<text x="1160" y="192.4" class="ax" textLength="29.8" lengthAdjust="spacingAndGlyphs">10000.00</text>
<line x1="1154.5" y1="211.3" x2="1157.5" y2="211.3" stroke="#8a8c95" stroke-width="0.8"/>
<text x="1160" y="213.7" class="ax" textLength="26.2" lengthAdjust="spacingAndGlyphs">8400.00</text>
<line x1="1154.5" y1="230.2" x2="1157.5" y2="230.2" stroke="#8a8c95" stroke-width="0.8"/>
<text x="1160" y="232.6" class="ax" textLength="26.2" lengthAdjust="spacingAndGlyphs">7200.00</text>
<line x1="1154.5" y1="253.5" x2="1157.5" y2="253.5" stroke="#8a8c95" stroke-width="0.8"/>
<text x="1160" y="255.9" class="ax" textLength="26.2" lengthAdjust="spacingAndGlyphs">5950.00</text>
<line x1="1154.5" y1="276.0" x2="1157.5" y2="276.0" stroke="#8a8c95" stroke-width="0.8"/>
<text x="1160" y="278.4" class="ax" textLength="26.2" lengthAdjust="spacingAndGlyphs">4950.00</text>
<line x1="1154.5" y1="297.5" x2="1157.5" y2="297.5" stroke="#8a8c95" stroke-width="0.8"/>
<text x="1160" y="299.9" class="ax" textLength="26.2" lengthAdjust="spacingAndGlyphs">4150.00</text>
<line x1="1154.5" y1="316.6" x2="1157.5" y2="316.6" stroke="#8a8c95" stroke-width="0.8"/>
<text x="1160" y="319.0" class="ax" textLength="26.2" lengthAdjust="spacingAndGlyphs">3550.00</text>
<line x1="1154.5" y1="339.2" x2="1157.5" y2="339.2" stroke="#8a8c95" stroke-width="0.8"/>
<text x="1160" y="341.6" class="ax" textLength="26.2" lengthAdjust="spacingAndGlyphs">2950.00</text>
<line x1="1154.5" y1="361.9" x2="1157.5" y2="361.9" stroke="#8a8c95" stroke-width="0.8"/>
<text x="1160" y="364.3" class="ax" textLength="26.2" lengthAdjust="spacingAndGlyphs">2450.00</text>
<line x1="1154.5" y1="383.7" x2="1157.5" y2="383.7" stroke="#8a8c95" stroke-width="0.8"/>
<text x="1160" y="386.1" class="ax" textLength="26.2" lengthAdjust="spacingAndGlyphs">2050.00</text>
<line x1="1154.5" y1="403.0" x2="1157.5" y2="403.0" stroke="#8a8c95" stroke-width="0.8"/>
<text x="1160" y="405.4" class="ax" textLength="26.2" lengthAdjust="spacingAndGlyphs">1750.00</text>
<line x1="1154.5" y1="421.9" x2="1157.5" y2="421.9" stroke="#8a8c95" stroke-width="0.8"/>
<text x="1160" y="424.3" class="ax" textLength="26.2" lengthAdjust="spacingAndGlyphs">1500.00</text>
<line x1="1154.5" y1="443.2" x2="1157.5" y2="443.2" stroke="#8a8c95" stroke-width="0.8"/>
<text x="1160" y="445.6" class="ax" textLength="26.2" lengthAdjust="spacingAndGlyphs">1260.00</text>
<line x1="1154.5" y1="464.3" x2="1157.5" y2="464.3" stroke="#8a8c95" stroke-width="0.8"/>
<text x="1160" y="466.7" class="ax" textLength="26.2" lengthAdjust="spacingAndGlyphs">1060.00</text>
<line x1="1154.5" y1="484.3" x2="1157.5" y2="484.3" stroke="#8a8c95" stroke-width="0.8"/>
<text x="1160" y="486.7" class="ax" textLength="22.6" lengthAdjust="spacingAndGlyphs">900.00</text>
<line x1="1154.5" y1="504.9" x2="1157.5" y2="504.9" stroke="#8a8c95" stroke-width="0.8"/>
<text x="1160" y="507.3" class="ax" textLength="22.6" lengthAdjust="spacingAndGlyphs">760.00</text>
<line x1="1154.5" y1="524.0" x2="1157.5" y2="524.0" stroke="#8a8c95" stroke-width="0.8"/>
<text x="1160" y="526.4" class="ax" textLength="22.6" lengthAdjust="spacingAndGlyphs">650.00</text>
<line x1="1154.5" y1="542.7" x2="1157.5" y2="542.7" stroke="#8a8c95" stroke-width="0.8"/>
<text x="1160" y="545.1" class="ax" textLength="22.6" lengthAdjust="spacingAndGlyphs">558.00</text>
<rect x="1154.2" y="190.2" width="36.8" height="10.6" fill="#2196f3"/>
<line x1="1154.5" y1="195.4" x2="1157.5" y2="195.4" stroke="#ffffff" stroke-width="0.8"/>
<text x="1160" y="198.2" style="font-size:7.3px;fill:#ffffff;font-weight:bold" textLength="26.6" lengthAdjust="spacingAndGlyphs">9518.11</text>
<rect x="1161" y="201.8" width="30" height="10.4" fill="#2196f3"/>
<text x="1165" y="209.8" style="font-size:7.3px;fill:#ffffff;font-weight:bold" textLength="22.5" lengthAdjust="spacingAndGlyphs">2d 17h</text>
<line x1="9.5" y1="545.5" x2="9.5" y2="548.0" stroke="#70737e" stroke-width="0.8"/>
<text x="9.5" y="558.2" class="ax" text-anchor="middle">Jul</text>
<line x1="58.75" y1="545.5" x2="58.75" y2="548.0" stroke="#70737e" stroke-width="0.8"/>
<text x="58.75" y="558.2" class="ax" text-anchor="middle">Oct</text>
<line x1="108.75" y1="545.5" x2="108.75" y2="548.0" stroke="#70737e" stroke-width="0.8"/>
<text x="108.75" y="558.2" class="axb" text-anchor="middle">2017</text>
<line x1="158.25" y1="545.5" x2="158.25" y2="548.0" stroke="#70737e" stroke-width="0.8"/>
<text x="158.25" y="558.2" class="ax" text-anchor="middle">Apr</text>
<line x1="207.5" y1="545.5" x2="207.5" y2="548.0" stroke="#70737e" stroke-width="0.8"/>
<text x="207.5" y="558.2" class="ax" text-anchor="middle">Jul</text>
<line x1="257.5" y1="545.5" x2="257.5" y2="548.0" stroke="#70737e" stroke-width="0.8"/>
<text x="257.5" y="558.2" class="ax" text-anchor="middle">Oct</text>
<line x1="307.5" y1="545.5" x2="307.5" y2="548.0" stroke="#70737e" stroke-width="0.8"/>
<text x="307.5" y="558.2" class="axb" text-anchor="middle">2018</text>
<line x1="357" y1="545.5" x2="357" y2="548.0" stroke="#70737e" stroke-width="0.8"/>
<text x="357" y="558.2" class="ax" text-anchor="middle">Apr</text>
<line x1="406.75" y1="545.5" x2="406.75" y2="548.0" stroke="#70737e" stroke-width="0.8"/>
<text x="406.75" y="558.2" class="ax" text-anchor="middle">Jul</text>
<line x1="456.25" y1="545.5" x2="456.25" y2="548.0" stroke="#70737e" stroke-width="0.8"/>
<text x="456.25" y="558.2" class="ax" text-anchor="middle">Oct</text>
<line x1="509.5" y1="545.5" x2="509.5" y2="548.0" stroke="#70737e" stroke-width="0.8"/>
<text x="509.5" y="558.2" class="axb" text-anchor="middle">2019</text>
<line x1="574.5" y1="545.5" x2="574.5" y2="548.0" stroke="#70737e" stroke-width="0.8"/>
<text x="574.5" y="558.2" class="ax" text-anchor="middle">May</text>
<line x1="624.5" y1="545.5" x2="624.5" y2="548.0" stroke="#70737e" stroke-width="0.8"/>
<text x="624.5" y="558.2" class="ax" text-anchor="middle">Aug</text>
<line x1="708.25" y1="545.5" x2="708.25" y2="548.0" stroke="#70737e" stroke-width="0.8"/>
<text x="708.25" y="558.2" class="axb" text-anchor="middle">2020</text>
<line x1="757.5" y1="545.5" x2="757.5" y2="548.0" stroke="#70737e" stroke-width="0.8"/>
<text x="757.5" y="558.2" class="ax" text-anchor="middle">Apr</text>
<line x1="807.5" y1="545.5" x2="807.5" y2="548.0" stroke="#70737e" stroke-width="0.8"/>
<text x="807.5" y="558.2" class="ax" text-anchor="middle">Jul</text>
<line x1="857.5" y1="545.5" x2="857.5" y2="548.0" stroke="#70737e" stroke-width="0.8"/>
<text x="857.5" y="558.2" class="ax" text-anchor="middle">Oct</text>
<line x1="907.5" y1="545.5" x2="907.5" y2="548.0" stroke="#70737e" stroke-width="0.8"/>
<text x="907.5" y="558.2" class="axb" text-anchor="middle">2021</text>
<line x1="956.25" y1="545.5" x2="956.25" y2="548.0" stroke="#70737e" stroke-width="0.8"/>
<text x="956.25" y="558.2" class="ax" text-anchor="middle">Apr</text>
<line x1="1006.25" y1="545.5" x2="1006.25" y2="548.0" stroke="#70737e" stroke-width="0.8"/>
<text x="1006.25" y="558.2" class="ax" text-anchor="middle">Jul</text>
<line x1="1056.25" y1="545.5" x2="1056.25" y2="548.0" stroke="#70737e" stroke-width="0.8"/>
<text x="1056.25" y="558.2" class="ax" text-anchor="middle">Oct</text>
<line x1="1105.75" y1="545.5" x2="1105.75" y2="548.0" stroke="#70737e" stroke-width="0.8"/>
<text x="1105.75" y="558.2" class="axb" text-anchor="middle">2022</text>
<text x="10" y="39.6" style="font-size:7.6px;font-weight:bold;fill:#4a4e59" textLength="125.5" lengthAdjust="spacingAndGlyphs">Bitcoin / U.S. Dollar, 1W, COINBASE</text>
<text x="10" y="50.2" style="font-size:7.6px;fill:#6c707a" textLength="25.5" lengthAdjust="spacingAndGlyphs">Vol (20)</text>
<g>
<path d="M6.5 579.3 C3.0 579.3 3.0 575.0 6.2 574.6 C6.4 571.2 9.0 569.8 10.6 570.0 C12.6 570.0 14.0 571.4 14.4 572.8 C15.6 572.0 17.8 572.6 18.2 574.6 C20.4 575.0 20.4 579.3 17.4 579.3 Z" fill="#2196f3"/>
<path d="M5.2 578.0 L10.0 573.6 L13.4 577.6 L16.2 575.0" fill="none" stroke="#ffffff" stroke-width="1.1" stroke-linejoin="round"/>
</g>
<text x="21.3" y="577.1" style="font-size:7.6px;fill:#444444" textLength="43" lengthAdjust="spacingAndGlyphs">TradingView</text>
</svg></body></html>
